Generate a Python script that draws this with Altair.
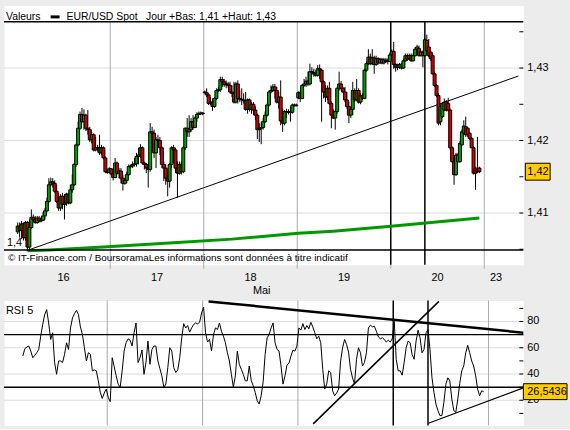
import altair as alt
import pandas as pd

FONT = "Liberation Sans"
W, H1, H2 = 523, 261, 126
GREEN = "#00a000"
RED = "#d40000"
GOLD = "#ffcc00"
GRID = "#dcdcdc"
DAYGRID = "#a8a8a8"

# ---------------- data ----------------
DAY_LABELS = ["16", "17", "18", "19", "20", "23"]
DAY_CENTER = [23.5, 71.5, 119.5, 167.5, 215.5, 245.5]
DAY_BOUNDS = [47.5, 95.5, 143.5, 191.5, 239.5]
MARKED_TIMES = [191.5, 209]

OPEN = [1.4074, 1.4082, 1.4076, 1.4085, 1.4066, 1.4087, 1.4053, 1.4080, 1.4094, 1.4091,
        1.4087, 1.4093, 1.4089, 1.4090, 1.4096, 1.4103, 1.4116, 1.4139, 1.4143, 1.4141,
        1.4130, 1.4116, 1.4107, 1.4123, 1.4112, 1.4114, 1.4126, 1.4114, 1.4132, 1.4139,
        1.4167, 1.4194, 1.4217, 1.4236, 1.4226, 1.4235, 1.4217, 1.4215, 1.4201, 1.4208,
        1.4187, 1.4190, 1.4190, 1.4183, 1.4190, 1.4176, 1.4157, 1.4156, 1.4161, 1.4154,
        1.4149, 1.4169, 1.4155, 1.4158, 1.4148, 1.4141, 1.4145, 1.4153, 1.4164, 1.4165,
        1.4167, 1.4168, 1.4178, 1.4180, 1.4190, 1.4169, 1.4167, 1.4162, 1.4160, 1.4212,
        1.4210, 1.4183, 1.4201, 1.4200, 1.4190, 1.4167, 1.4162, 1.4148, 1.4144, 1.4167,
        1.4190, 1.4187, 1.4162, 1.4155, 1.4167, 1.4157, 1.4190, 1.4217, 1.4212, 1.4215,
        1.4226, 1.4218, 1.4231, 1.4236, 1.4237, 1.4238, 1.4267, 1.4266, 1.4263, 1.4251,
        1.4253, 1.4247, 1.4258, 1.4269, 1.4270, 1.4284, 1.4281, 1.4277, 1.4278, 1.4276,
        1.4267, 1.4265, 1.4253, 1.4278, 1.4258, 1.4257, 1.4256, 1.4255, 1.4243, 1.4256,
        1.4243, 1.4250, 1.4242, 1.4235, 1.4215, 1.4217, 1.4218, 1.4226, 1.4235, 1.4249,
        1.4267, 1.4269, 1.4274, 1.4269, 1.4253, 1.4260, 1.4227, 1.4224, 1.4240, 1.4239,
        1.4240, 1.4239, 1.4249, 1.4248, 1.4259, 1.4266, 1.4258, 1.4276, 1.4278, 1.4282,
        1.4278, 1.4295, 1.4294, 1.4292, 1.4290, 1.4299, 1.4297, 1.4281, 1.4267, 1.4260,
        1.4272, 1.4251, 1.4235, 1.4231, 1.4240, 1.4272, 1.4278, 1.4272, 1.4267, 1.4256,
        1.4247, 1.4235, 1.4243, 1.4269, 1.4256, 1.4269, 1.4253, 1.4262, 1.4258, 1.4297,
        1.4306, 1.4315, 1.4306, 1.4314, 1.4305, 1.4313, 1.4307, 1.4312, 1.4307, 1.4311,
        1.4309, 1.4309, 1.4318, 1.4323, 1.4305, 1.4301, 1.4301, 1.4300, 1.4300, 1.4310,
        1.4317, 1.4313, 1.4317, 1.4310, 1.4317, 1.4326, 1.4327, 1.4317, 1.4322, 1.4317,
        1.4338, 1.4329, 1.4322, 1.4317, 1.4292, 1.4276, 1.4262, 1.4226, 1.4233, 1.4242,
        1.4253, 1.4251, 1.4242, 1.4190, 1.4171, 1.4153, 1.4171, 1.4171, 1.4194, 1.4210,
        1.4219, 1.4217, 1.4210, 1.4203, 1.4190, 1.4162, 1.4160, 1.4162]
HIGH = [1.4087, 1.4087, 1.4089, 1.4087, 1.4089, 1.4089, 1.4091, 1.4105, 1.4098, 1.4096,
        1.4096, 1.4096, 1.4094, 1.4101, 1.4107, 1.4121, 1.4148, 1.4149, 1.4148, 1.4145,
        1.4139, 1.4128, 1.4126, 1.4128, 1.4126, 1.4128, 1.4128, 1.4139, 1.4153, 1.4169,
        1.4196, 1.4226, 1.4240, 1.4245, 1.4243, 1.4237, 1.4242, 1.4219, 1.4212, 1.4210,
        1.4205, 1.4194, 1.4208, 1.4194, 1.4192, 1.4178, 1.4160, 1.4163, 1.4162, 1.4156,
        1.4176, 1.4171, 1.4162, 1.4162, 1.4153, 1.4148, 1.4157, 1.4167, 1.4167, 1.4171,
        1.4176, 1.4183, 1.4190, 1.4195, 1.4192, 1.4171, 1.4169, 1.4167, 1.4224, 1.4219,
        1.4215, 1.4205, 1.4208, 1.4205, 1.4192, 1.4171, 1.4167, 1.4157, 1.4169, 1.4192,
        1.4194, 1.4190, 1.4171, 1.4171, 1.4171, 1.4192, 1.4218, 1.4231, 1.4235, 1.4231,
        1.4235, 1.4233, 1.4239, 1.4240, 1.4240, 1.4239, 1.4269, 1.4272, 1.4265, 1.4260,
        1.4258, 1.4260, 1.4272, 1.4274, 1.4288, 1.4288, 1.4285, 1.4283, 1.4281, 1.4281,
        1.4276, 1.4281, 1.4281, 1.4283, 1.4269, 1.4272, 1.4265, 1.4267, 1.4258, 1.4258,
        1.4253, 1.4253, 1.4247, 1.4237, 1.4224, 1.4226, 1.4231, 1.4240, 1.4251, 1.4269,
        1.4276, 1.4278, 1.4278, 1.4274, 1.4267, 1.4283, 1.4244, 1.4242, 1.4244, 1.4243,
        1.4247, 1.4251, 1.4251, 1.4251, 1.4268, 1.4269, 1.4278, 1.4285, 1.4288, 1.4295,
        1.4306, 1.4301, 1.4299, 1.4297, 1.4304, 1.4305, 1.4299, 1.4283, 1.4276, 1.4276,
        1.4281, 1.4254, 1.4243, 1.4242, 1.4274, 1.4295, 1.4282, 1.4274, 1.4274, 1.4267,
        1.4254, 1.4247, 1.4281, 1.4272, 1.4285, 1.4272, 1.4265, 1.4265, 1.4299, 1.4309,
        1.4326, 1.4320, 1.4326, 1.4317, 1.4317, 1.4315, 1.4314, 1.4314, 1.4314, 1.4314,
        1.4313, 1.4321, 1.4326, 1.4336, 1.4307, 1.4306, 1.4307, 1.4307, 1.4313, 1.4320,
        1.4320, 1.4320, 1.4320, 1.4320, 1.4329, 1.4332, 1.4331, 1.4324, 1.4324, 1.4341,
        1.4346, 1.4340, 1.4324, 1.4320, 1.4295, 1.4278, 1.4265, 1.4249, 1.4253, 1.4258,
        1.4256, 1.4259, 1.4244, 1.4192, 1.4174, 1.4183, 1.4183, 1.4199, 1.4215, 1.4228,
        1.4233, 1.4219, 1.4212, 1.4205, 1.4192, 1.4164, 1.4205, 1.4164]
LOW = [1.4071, 1.4066, 1.4064, 1.4062, 1.4062, 1.4049, 1.4049, 1.4078, 1.4087, 1.4085,
       1.4085, 1.4087, 1.4087, 1.4089, 1.4091, 1.4101, 1.4114, 1.4137, 1.4135, 1.4128,
       1.4114, 1.4103, 1.4103, 1.4105, 1.4091, 1.4110, 1.4112, 1.4112, 1.4128, 1.4137,
       1.4164, 1.4192, 1.4215, 1.4224, 1.4215, 1.4213, 1.4208, 1.4198, 1.4196, 1.4185,
       1.4185, 1.4185, 1.4180, 1.4180, 1.4174, 1.4155, 1.4154, 1.4155, 1.4152, 1.4145,
       1.4148, 1.4153, 1.4148, 1.4141, 1.4131, 1.4139, 1.4141, 1.4151, 1.4162, 1.4162,
       1.4164, 1.4164, 1.4167, 1.4176, 1.4167, 1.4160, 1.4155, 1.4135, 1.4157, 1.4196,
       1.4176, 1.4162, 1.4192, 1.4180, 1.4162, 1.4144, 1.4139, 1.4123, 1.4135, 1.4162,
       1.4169, 1.4155, 1.4121, 1.4153, 1.4153, 1.4155, 1.4187, 1.4205, 1.4205, 1.4212,
       1.4215, 1.4217, 1.4226, 1.4235, 1.4235, 1.4235, 1.4265, 1.4260, 1.4249, 1.4249,
       1.4241, 1.4245, 1.4256, 1.4267, 1.4267, 1.4274, 1.4274, 1.4272, 1.4273, 1.4265,
       1.4260, 1.4251, 1.4251, 1.4251, 1.4253, 1.4249, 1.4251, 1.4241, 1.4237, 1.4240,
       1.4237, 1.4235, 1.4228, 1.4202, 1.4198, 1.4195, 1.4215, 1.4224, 1.4233, 1.4247,
       1.4265, 1.4267, 1.4258, 1.4251, 1.4244, 1.4221, 1.4212, 1.4221, 1.4231, 1.4236,
       1.4226, 1.4237, 1.4247, 1.4247, 1.4257, 1.4253, 1.4257, 1.4274, 1.4274, 1.4275,
       1.4276, 1.4290, 1.4288, 1.4288, 1.4288, 1.4285, 1.4226, 1.4258, 1.4253, 1.4256,
       1.4249, 1.4217, 1.4230, 1.4215, 1.4237, 1.4269, 1.4269, 1.4265, 1.4253, 1.4244,
       1.4224, 1.4231, 1.4235, 1.4253, 1.4255, 1.4251, 1.4250, 1.4256, 1.4257, 1.4295,
       1.4304, 1.4304, 1.4304, 1.4292, 1.4303, 1.4305, 1.4306, 1.4305, 1.4305, 1.4307,
       1.4305, 1.4308, 1.4316, 1.4299, 1.4295, 1.4297, 1.4299, 1.4298, 1.4299, 1.4309,
       1.4310, 1.4311, 1.4309, 1.4309, 1.4316, 1.4324, 1.4316, 1.4316, 1.4301, 1.4316,
       1.4322, 1.4315, 1.4310, 1.4291, 1.4274, 1.4260, 1.4221, 1.4221, 1.4231, 1.4241,
       1.4240, 1.4240, 1.4187, 1.4169, 1.4139, 1.4151, 1.4169, 1.4169, 1.4192, 1.4209,
       1.4205, 1.4205, 1.4201, 1.4190, 1.4153, 1.4132, 1.4155, 1.4155]
CLOSE = [1.4082, 1.4076, 1.4085, 1.4066, 1.4087, 1.4053, 1.4080, 1.4094, 1.4091, 1.4087,
         1.4093, 1.4089, 1.4090, 1.4096, 1.4103, 1.4116, 1.4139, 1.4143, 1.4141, 1.4130,
         1.4116, 1.4107, 1.4123, 1.4112, 1.4114, 1.4126, 1.4114, 1.4132, 1.4139, 1.4167,
         1.4194, 1.4217, 1.4236, 1.4226, 1.4235, 1.4217, 1.4215, 1.4201, 1.4208, 1.4187,
         1.4190, 1.4190, 1.4183, 1.4190, 1.4176, 1.4157, 1.4156, 1.4161, 1.4154, 1.4149,
         1.4169, 1.4155, 1.4158, 1.4148, 1.4141, 1.4145, 1.4153, 1.4164, 1.4165, 1.4167,
         1.4168, 1.4178, 1.4180, 1.4190, 1.4169, 1.4167, 1.4162, 1.4160, 1.4212, 1.4210,
         1.4183, 1.4201, 1.4200, 1.4190, 1.4167, 1.4162, 1.4148, 1.4144, 1.4167, 1.4190,
         1.4187, 1.4162, 1.4155, 1.4167, 1.4157, 1.4190, 1.4217, 1.4212, 1.4215, 1.4226,
         1.4218, 1.4231, 1.4236, 1.4237, 1.4238, 1.4237, 1.4266, 1.4263, 1.4251, 1.4253,
         1.4247, 1.4258, 1.4269, 1.4270, 1.4284, 1.4281, 1.4277, 1.4278, 1.4276, 1.4267,
         1.4265, 1.4253, 1.4278, 1.4258, 1.4257, 1.4256, 1.4255, 1.4243, 1.4256, 1.4243,
         1.4250, 1.4242, 1.4235, 1.4215, 1.4217, 1.4218, 1.4226, 1.4235, 1.4249, 1.4267,
         1.4269, 1.4274, 1.4269, 1.4253, 1.4260, 1.4227, 1.4224, 1.4240, 1.4239, 1.4240,
         1.4239, 1.4249, 1.4248, 1.4249, 1.4266, 1.4258, 1.4276, 1.4278, 1.4282, 1.4278,
         1.4295, 1.4294, 1.4292, 1.4290, 1.4299, 1.4297, 1.4281, 1.4267, 1.4260, 1.4272,
         1.4251, 1.4235, 1.4231, 1.4240, 1.4272, 1.4278, 1.4272, 1.4267, 1.4256, 1.4247,
         1.4235, 1.4243, 1.4269, 1.4256, 1.4269, 1.4253, 1.4262, 1.4258, 1.4297, 1.4306,
         1.4315, 1.4306, 1.4314, 1.4305, 1.4313, 1.4307, 1.4312, 1.4307, 1.4311, 1.4309,
         1.4309, 1.4318, 1.4323, 1.4305, 1.4301, 1.4304, 1.4305, 1.4305, 1.4310, 1.4317,
         1.4312, 1.4317, 1.4310, 1.4317, 1.4326, 1.4329, 1.4317, 1.4322, 1.4317, 1.4339,
         1.4324, 1.4317, 1.4313, 1.4292, 1.4276, 1.4262, 1.4224, 1.4247, 1.4251, 1.4253,
         1.4242, 1.4242, 1.4190, 1.4171, 1.4153, 1.4180, 1.4180, 1.4196, 1.4212, 1.4220,
         1.4208, 1.4208, 1.4203, 1.4190, 1.4155, 1.4155, 1.4157, 1.4157]

MA_T = [5, 16, 44, 80, 110, 144, 162, 193, 237]
MA_V = [1.4048, 1.4049, 1.4053, 1.4059, 1.4064, 1.4072, 1.4075, 1.4082, 1.4093]

TREND_T = [4.5, 257]
TREND_P = [1.4048, 1.4289]

LEVELS_P = [1.4364, 1.4049]
PRICE_LABELS = [1.41, 1.42, 1.43]
PRICE_TICKS = [1.405, 1.41, 1.415, 1.42, 1.425, 1.43, 1.435]

RSI_START = 5
RSI = [53.7, 59.3, 60.5, 61.3, 57.5, 52.4, 54.2, 56.2, 58.7, 68.8, 77.7, 85.2, 89.0, 78.9, 66.3,
       71.4, 48.7, 39.8, 49.9, 49.9, 48.7, 55.0, 63.8, 58.7, 75.1, 82.7, 86.0, 88.5, 85.2, 75.9,
       70.1, 60.0, 49.9, 56.2, 55.0, 42.4, 43.1, 42.4, 34.8, 26.0, 21.4, 25.5, 28.5, 22.2, 18.9,
       52.4, 45.6, 38.6, 32.3, 29.8, 42.4, 57.5, 63.8, 66.8, 65.8, 61.3, 71.4, 78.9, 48.7, 52.4,
       58.2, 39.8, 48.7, 65.1, 47.4, 58.7, 61.3, 61.3, 49.9, 44.1, 38.6, 29.8, 32.3, 44.9, 60.0,
       57.5, 44.9, 41.1, 43.1, 52.4, 67.6, 78.4, 75.1, 76.9, 71.9, 75.1, 77.7, 78.9, 78.2, 79.4,
       86.5, 90.8, 71.4, 64.3, 66.3, 57.5, 70.1, 75.1, 73.9, 78.9, 72.6, 68.8, 63.8, 56.2, 49.9,
       39.8, 29.8, 38.6, 57.5, 47.4, 43.6, 39.8, 34.8, 34.8, 46.1, 35.0, 31.0, 26.0, 19.7, 17.1,
       23.4, 34.0, 55.0, 67.6, 70.1, 75.1, 78.9, 63.8, 58.7, 57.5, 46.1, 32.3, 38.6, 46.9, 48.2,
       53.7, 58.2, 57.5, 61.3, 75.1, 73.4, 78.4, 73.9, 76.9, 74.4, 79.4, 75.9, 71.4, 66.8, 68.8,
       63.8, 43.6, 28.5, 32.3, 42.4, 41.1, 27.2, 23.4, 25.5, 28.5, 49.9, 60.0, 66.3, 62.5, 56.7,
       43.6, 37.1, 32.3, 51.2, 60.0, 56.2, 46.1, 48.7, 56.2, 75.1, 77.2, 75.9, 76.4, 72.6, 68.3,
       66.8, 67.6, 66.3, 64.3, 65.8, 64.3, 66.8, 80.2, 51.2, 42.4, 42.4, 39.1, 48.7, 60.0, 65.1,
       63.8, 55.0, 51.2, 65.1, 73.4, 67.6, 56.2, 58.7, 71.4, 73.9, 58.7, 37.3, 26.0, 17.1, 12.1,
       8.3, 8.3, 18.4, 32.3, 37.1, 34.8, 20.9, 12.1, 10.8, 20.9, 33.0, 42.4, 46.1, 56.2, 61.8,
       56.2, 49.9, 46.1, 38.6, 28.5, 23.4, 27.2, 26.5436]
RSI_LEVELS = [30, 70]
RSI_LABELS = [20, 40, 60, 80]
RSI_TICKS = [10, 20, 30, 40, 50, 60, 70, 80, 90]
RSI_TL_A = ([98.5, 257], [95.3, 71.5])
RSI_TL_B = ([151.2, 214.5], [2.0, 95.3])
RSI_TL_C = ([209.2, 257], [2.5, 29.4])

# ---------------- scales ----------------
XS = alt.Scale(domain=[-4.5, 257], nice=False, zero=False)
YP = alt.Scale(domain=[1.40288, 1.43863], nice=False, zero=False)
YR = alt.Scale(domain=[0.76, 96.07], nice=False, zero=False)


def xq(field="t"):
    return alt.X(f"{field}:Q", scale=XS, axis=None)


def yp(field="p"):
    return alt.Y(f"{field}:Q", scale=YP, axis=None)


def yr(field="v"):
    return alt.Y(f"{field}:Q", scale=YR, axis=None)


def one(**kw):
    return alt.Chart(pd.DataFrame({k: [v] for k, v in kw.items()}))


def label(x, y, s, size=11, align="left"):
    return one(s=s).mark_text(font=FONT, fontSize=size, align=align, baseline="middle",
                              color="black").encode(x=alt.value(x), y=alt.value(y), text="s:N")


def frame_axis(orient=None):
    kw = dict(labels=False, ticks=False, grid=False, domainColor="black",
              domainWidth=1.5, title=None)
    if orient:
        kw["orient"] = orient
    return alt.Axis(**kw)


candles = pd.DataFrame({"t": list(range(len(CLOSE))), "open": OPEN, "high": HIGH,
                        "low": LOW, "close": CLOSE})
gray_days = [b for b in DAY_BOUNDS if b not in MARKED_TIMES]

# ---------------- price panel ----------------
p_hgrid = alt.Chart(pd.DataFrame({"p": PRICE_LABELS})).mark_rule(color=GRID).encode(
    y=yp(), x=alt.value(0), x2=alt.value(W))
grid_v = alt.Chart(pd.DataFrame({"t": gray_days})).mark_rule(color=DAYGRID).encode(
    x=xq(), y=alt.value(16.5), y2=alt.value(H1))
xticks = alt.Chart(pd.DataFrame({"t": DAY_BOUNDS})).mark_rule(color=DAYGRID).encode(
    x=xq(), y=alt.value(H1), y2=alt.value(H1 + 4))
marks_v = alt.Chart(pd.DataFrame({"t": MARKED_TIMES})).mark_rule(color="black", strokeWidth=1.5).encode(
    x=xq(), y=alt.value(16.5), y2=alt.value(H1))
ma = alt.Chart(pd.DataFrame({"t": MA_T, "p": MA_V})).mark_line(color="#009900", strokeWidth=3).encode(
    x=xq(), y=yp())
trend = alt.Chart(pd.DataFrame({"t": TREND_T, "p": TREND_P})).mark_line(color="black", strokeWidth=1).encode(
    x=xq(), y=yp())
levels = alt.Chart(pd.DataFrame({"p": LEVELS_P})).mark_rule(color="black", strokeWidth=1.5).encode(
    y=yp(), x=alt.value(0), x2=alt.value(W))
wicks = alt.Chart(candles).mark_rule(color="black", strokeWidth=1).encode(
    x=alt.X("t:Q", scale=XS, axis=frame_axis()),
    y=alt.Y("low:Q", scale=YP, axis=frame_axis("right")),
    y2="high:Q")
bodies = alt.Chart(candles).mark_bar(width=3, stroke="black", strokeWidth=1).encode(
    x=xq(), y=yp("open"), y2="close:Q",
    color=alt.condition("datum.close >= datum.open", alt.value(GREEN), alt.value(RED)))
pticks = alt.Chart(pd.DataFrame({"p": PRICE_TICKS})).mark_rule(color="black").encode(
    y=yp(), x=alt.value(W - 4), x2=alt.value(W))
plabels = alt.Chart(pd.DataFrame({"p": PRICE_LABELS,
                                  "s": [f"{v:.2f}".replace(".", ",") for v in PRICE_LABELS]})).mark_text(
    font=FONT, fontSize=11, align="left", baseline="middle", color="black").encode(
    x=alt.value(W + 4), y=yp(), text="s:N")

legend_box = one(k=0).mark_rect(color="black").encode(
    x=alt.value(47), x2=alt.value(56), y=alt.value(10), y2=alt.value(13))
days = alt.Chart(pd.DataFrame({"t": DAY_CENTER, "d": DAY_LABELS})).mark_text(
    font=FONT, fontSize=11, baseline="middle", color="black").encode(
    x=xq(), y=alt.value(H1 + 13), text="d:N")

last_p = CLOSE[-1]
last_p_txt = f"{last_p:.2f}".replace(".", ",")
pbox = one(p=last_p).mark_point(shape="M-1,-0.68L1,-0.68L1,0.68L-1,0.68Z", size=625, filled=True,
                                 fill=GOLD, stroke="black", strokeWidth=1, opacity=1).encode(
    x=alt.value(W + 14.5), y=yp())
ptxt = one(p=last_p, s=last_p_txt).mark_text(font=FONT, fontSize=11, align="left", baseline="middle",
                                             color="black").encode(
    x=alt.value(W + 4), y=yp(), text="s:N")

price = alt.layer(
    p_hgrid, grid_v, xticks, marks_v, ma, trend, levels, wicks, bodies, pticks, plabels,
    label(2, 11.5, "Valeurs", size=10.5), legend_box, label(63, 11.5, "EUR/USD Spot", size=10.5),
    label(143, 11.5, "Jour +Bas: 1,41 +Haut: 1,43", size=10.5),
    label(3, 239, "1,4"),
    label(4, 254, "© IT-Finance.com / BoursoramaLes informations sont données à titre indicatif", size=10),
    days, label(W / 2 - 2, H1 + 27, "Mai", align="center"),
    pbox, ptxt,
).properties(width=W, height=H1)

# ---------------- RSI panel ----------------
rsi_df = pd.DataFrame({"t": list(range(RSI_START, RSI_START + len(RSI))), "v": RSI})

r_hgrid = alt.Chart(pd.DataFrame({"v": RSI_LABELS})).mark_rule(color=GRID).encode(
    y=yr(), x=alt.value(0), x2=alt.value(W))
r_grid_v = alt.Chart(pd.DataFrame({"t": gray_days})).mark_rule(color=DAYGRID).encode(
    x=xq(), y=alt.value(0), y2=alt.value(H2))
r_marks_v = alt.Chart(pd.DataFrame({"t": MARKED_TIMES})).mark_rule(color="black", strokeWidth=1.5).encode(
    x=xq(), y=alt.value(0), y2=alt.value(H2))
r_levels = alt.Chart(pd.DataFrame({"v": RSI_LEVELS})).mark_rule(color="black", strokeWidth=1.5).encode(
    y=yr(), x=alt.value(0), x2=alt.value(W))


def tl(pair, width):
    return alt.Chart(pd.DataFrame({"t": pair[0], "v": pair[1]})).mark_line(
        color="black", strokeWidth=width).encode(x=xq(), y=yr())


rsi_line = alt.Chart(rsi_df).mark_line(color="black", strokeWidth=1).encode(
    x=alt.X("t:Q", scale=XS, axis=frame_axis()),
    y=alt.Y("v:Q", scale=YR, axis=frame_axis("right")))
rticks = alt.Chart(pd.DataFrame({"v": RSI_TICKS})).mark_rule(color="black").encode(
    y=yr(), x=alt.value(W - 4), x2=alt.value(W))
rlabels = alt.Chart(pd.DataFrame({"v": RSI_LABELS, "s": [str(v) for v in RSI_LABELS]})).mark_text(
    font=FONT, fontSize=11, align="left", baseline="middle", color="black").encode(
    x=alt.value(W + 4), y=yr(), text="s:N")

last_r = RSI[-1]
last_r_txt = f"{last_r:.4f}".replace(".", ",")
rbox = one(v=last_r).mark_point(shape="M-1,-0.364L1,-0.364L1,0.364L-1,0.364Z", size=1936, filled=True,
                                 fill=GOLD, stroke="black", strokeWidth=1, opacity=1).encode(
    x=alt.value(W + 22), y=yr())
rtxt = one(v=last_r, s=last_r_txt).mark_text(font=FONT, fontSize=11, align="left", baseline="middle",
                                             color="black").encode(
    x=alt.value(W + 4), y=yr(), text="s:N")

rsi = alt.layer(
    r_hgrid, r_grid_v, r_levels, r_marks_v, tl(RSI_TL_A, 2.5), tl(RSI_TL_B, 1.5), tl(RSI_TL_C, 1.2),
    rsi_line, rticks, rlabels, label(2, 11, "RSI 5"), rbox, rtxt,
).properties(width=W, height=H2)

chart = alt.vconcat(
    price, rsi, spacing=36, bounds="flush", background="#ececec",
    padding={"left": 2, "top": 3, "right": 0, "bottom": 0},
).configure_view(fill="white", stroke="transparent")

chart.save("out.html", embed_options={"renderer": "svg", "actions": False})
